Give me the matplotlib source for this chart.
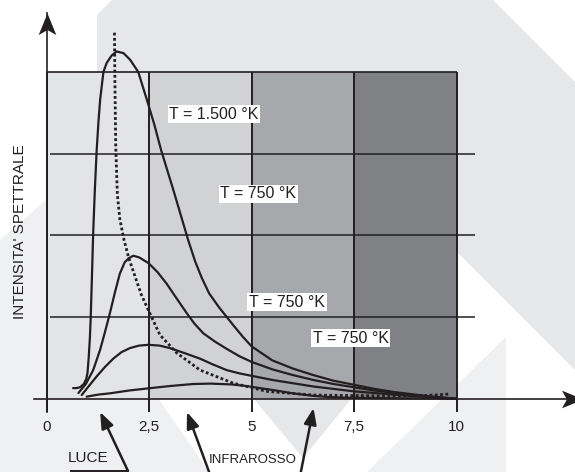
import matplotlib
matplotlib.use('Agg')
import matplotlib.pyplot as plt
from matplotlib.path import Path

plt.rcParams['font.family'] = ['Liberation Sans', 'DejaVu Sans']

INK = '#231f20'

# bande dello spettro (lunghezza d'onda)
band_left = [0, 2.5, 5, 7.5]
band_colors = ['#e3e4e5', '#d1d2d4', '#a7a8ab', '#808184']
grid_y = [1, 2, 3]

tick_pos = [0, 2.5, 5, 7.5, 10]
tick_labels = ['0', '2,5', '5', '7,5', '10']

# curve di emissione
c1_x = [0.64, 0.72, 0.81, 0.90, 0.96, 0.99, 1.02, 1.05, 1.07, 1.10, 1.13, 1.17, 1.215, 1.26, 1.30,
        1.38, 1.46, 1.58, 1.70, 1.87, 2.03, 2.23, 2.44, 2.62, 2.79, 3.09, 3.45, 3.62, 3.78, 3.96,
        4.20, 4.55, 4.78, 5.0, 5.5, 6.0, 6.5, 7.0, 7.5, 8.0, 8.5, 9.0, 9.5, 10.0]
c1_y = [0.13, 0.13, 0.14, 0.18, 0.24, 0.31, 0.50, 0.75, 1.00, 1.50, 2.03, 2.55, 3.04, 3.40, 3.66,
        4.00, 4.11, 4.20, 4.25, 4.23, 4.15, 4.00, 3.66, 3.36, 3.04, 2.55, 1.94, 1.68, 1.48, 1.29,
        1.12, 0.90, 0.76, 0.64, 0.47, 0.37, 0.29, 0.22, 0.17, 0.12, 0.08, 0.05, 0.02, 0.0]

c2_x = [0.77, 0.95, 1.13, 1.30, 1.42, 1.54, 1.66, 1.78, 1.90, 2.0, 2.11, 2.25, 2.48, 2.70, 2.92,
        3.15, 3.41, 3.60, 3.82, 4.1, 4.39, 4.7, 5.0, 5.5, 6.0, 6.5, 7.0, 7.5, 8.0, 8.5, 9.0, 9.5, 10.0]
c2_y = [0.07, 0.18, 0.35, 0.60, 0.82, 1.05, 1.30, 1.53, 1.67, 1.72, 1.75, 1.73, 1.66, 1.55, 1.41,
        1.24, 1.05, 0.92, 0.80, 0.70, 0.61, 0.52, 0.45, 0.36, 0.29, 0.23, 0.18, 0.14, 0.10, 0.07,
        0.04, 0.02, 0.0]

c3_x = [0.85, 1.0, 1.21, 1.42, 1.62, 1.82, 2.03, 2.25, 2.48, 2.75, 3.0, 3.35, 3.74, 4.05, 4.39,
        4.7, 5.0, 5.5, 6.0, 6.5, 7.0, 7.5, 8.0, 8.5, 9.0, 9.5, 10.0]
c3_y = [0.045, 0.14, 0.27, 0.39, 0.49, 0.57, 0.62, 0.65, 0.66, 0.65, 0.62, 0.56, 0.49, 0.42, 0.35,
        0.31, 0.28, 0.23, 0.19, 0.15, 0.12, 0.09, 0.07, 0.05, 0.03, 0.015, 0.0]

c4_x = [0.97, 1.25, 1.54, 2.0, 2.48, 3.0, 3.57, 4.0, 4.5, 4.88, 5.2, 5.6, 6.0, 6.5, 6.9, 7.5, 8.5, 10.0]
c4_y = [0.025, 0.05, 0.066, 0.10, 0.127, 0.155, 0.18, 0.185, 0.175, 0.155, 0.13, 0.10, 0.066,
        0.035, 0.02, 0.01, 0.005, 0.0]

# luogo dei massimi (tratteggiato)
peak_x = [1.65, 1.66, 1.68, 1.72, 1.78, 1.88, 2.0, 2.15, 2.30, 2.48, 2.76, 3.17, 3.74, 4.55, 5.37,
          6.5, 8.0, 9.3, 9.82]
peak_y = [4.48, 3.90, 3.10, 2.50, 2.20, 1.95, 1.72, 1.50, 1.28, 1.08, 0.78, 0.56, 0.35, 0.19, 0.09,
          0.045, 0.035, 0.04, 0.057]

temp_labels = ['T = 1.500 °K', 'T = 750 °K', 'T = 750 °K', 'T = 750 °K']

fig = plt.figure(figsize=(5.75, 4.72), dpi=100)

# filigrana di sfondo (coordinate in pixel)
bg = fig.add_axes([0, 0, 1, 1])
bg.set_xlim(0, 575)
bg.set_ylim(472, 0)
bg.axis('off')
bg.fill([97, 112, 493, 575, 575, 457, 457, 97], [15, 0, 0, 82, 370, 252, 398, 398],
        color='#e6e7e9', lw=0)
bg.fill([253, 352, 303], [398, 398, 458], color='#e6e7e9', lw=0)
bg.fill([0, 46, 46, 158, 209, 0], [240, 200, 398, 398, 472, 472], color='#eff0f1', lw=0)
bg.fill([367, 506, 506], [472, 337, 472], color='#eff0f1', lw=0)

ax = fig.add_axes([0, 0, 1, 1])
ax.patch.set_alpha(0)
ax.set_xlim(-1.145, 12.893)
ax.set_ylim(-0.897, 4.880)
ax.axis('off')

ax.bar(band_left, [4] * len(band_left), width=2.5, align='edge', color=band_colors,
       lw=0, zorder=1)
ax.hlines(grid_y, 0.07, 10.45, color=INK, lw=1.1, zorder=2)
ax.hlines(4, 0, 10, color=INK, lw=1.2, zorder=2)
ax.vlines(tick_pos, -0.16, 4, color=INK, lw=1.4, zorder=2)

# assi con frecce
ax.plot([0, 0], [-0.16, 4.72], color=INK, lw=1.2, zorder=3)
ax.plot([-0.32, 13.0], [0, 0], color=INK, lw=1.2, zorder=3)
up_head = Path([(0, 0), (0.41, -1), (0, -0.77), (-0.41, -1), (0, 0)], closed=True)
right_head = Path([(0, 0), (-1, 0.41), (-0.77, 0), (-1, -0.41), (0, 0)], closed=True)
ax.plot([0], [4.72], marker=up_head, ms=31, color=INK, mew=0, zorder=4)
ax.plot([13.09], [0], marker=right_head, ms=31, color=INK, mew=0, zorder=4)

for xs, ys in [(c1_x, c1_y), (c2_x, c2_y), (c3_x, c3_y), (c4_x, c4_y)]:
    ax.plot(xs, ys, color=INK, lw=1.6, solid_joinstyle='round', solid_capstyle='round', zorder=5)
ax.plot(peak_x, peak_y, color=INK, lw=2.0, ls=(0, (1, 0.9)), dash_capstyle='butt', zorder=5)

label_pos = [(4.08, 3.48), (5.16, 2.51), (5.86, 1.18), (7.42, 0.74)]
for (lx, ly), lab in zip(label_pos, temp_labels):
    ax.text(lx, ly, lab, ha='center', va='center', fontsize=11.5, color=INK, zorder=6,
            bbox=dict(boxstyle='square,pad=0.1', fc='white', ec='none'))

for tx, tl in zip(tick_pos, tick_labels):
    ax.text(tx, -0.35, tl, ha='center', va='center', fontsize=11, color=INK)

ax.text(-0.66, 2.05, "INTENSITA' SPETTRALE", rotation=90, ha='center', va='center',
        fontsize=11, color=INK)

# LUCE / INFRAROSSO con frecce
ax.text(1.0, -0.73, 'LUCE', ha='center', va='center', fontsize=11, color=INK)
ax.plot([0.59, 1.98], [-0.885, -0.885], color=INK, lw=1.4)
aprops = dict(arrowstyle='-|>,head_length=0.65,head_width=0.25', color=INK, lw=1.8,
              mutation_scale=15, shrinkA=0, shrinkB=0)
ax.annotate('', xy=(1.30, -0.163), xytext=(1.98, -0.885), arrowprops=aprops)
ax.text(5.03, -0.75, 'INFRAROSSO', ha='center', va='center', fontsize=9.5, color=INK)
ax.annotate('', xy=(3.42, -0.163), xytext=(3.96, -0.897), arrowprops=aprops)
ax.annotate('', xy=(6.51, -0.114), xytext=(6.20, -0.897), arrowprops=aprops)

fig.savefig('out.png', dpi=100)
